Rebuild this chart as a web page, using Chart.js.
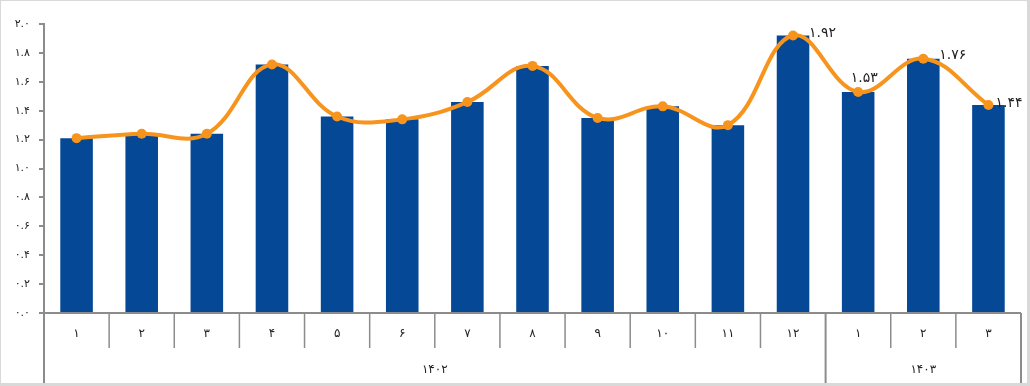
<!DOCTYPE html>
<html>
<head>
<meta charset="utf-8">
<script src="https://cdn.jsdelivr.net/npm/chart.js@4"></script>
<style>
  html, body { margin: 0; padding: 0; background: #d9d9d9; }
  #wrap { position: absolute; left: 1px; top: 1px; width: 1026px; height: 382px; background: #fff; }
</style>
</head>
<body>
<div id="wrap"><canvas id="chart_rate"></canvas></div>
<script>
// months of 1402 and 1403
const months = ['1', '2', '3', '4', '5', '6', '7', '8', '9', '10', '11', '12', '1', '2', '3'];
const years = ['1402', '1403'];
const yearSpans = [12, 3];
const barValues = [1.21, 1.24, 1.24, 1.72, 1.36, 1.34, 1.46, 1.71, 1.35, 1.43, 1.30, 1.92, 1.53, 1.76, 1.44];
const lineValues = [1.21, 1.24, 1.24, 1.72, 1.36, 1.34, 1.46, 1.71, 1.35, 1.43, 1.30, 1.92, 1.53, 1.76, 1.44];
const labelledPoints = [11, 12, 13, 14];

const FONT = 'DejaVu Sans';
const axisColor = '#8c8c8c';

function fa(s) {
    return String(s).replace(/[0-9]/g, d => '۰۱۲۳۴۵۶۷۸۹'[d]);
}

// draws the two-row category axis and the year groups
const groupAxis = {
    id: 'groupAxis',
    afterDraw(chart) {
        const ctx = chart.ctx;
        const xs = chart.scales.x;
        const area = chart.chartArea;
        const half = (xs.getPixelForValue(1) - xs.getPixelForValue(0)) / 2;
        const bottom = chart.height;
        ctx.save();
        ctx.strokeStyle = axisColor;
        ctx.beginPath();
        ctx.lineWidth = 2;
        ctx.moveTo(area.left - 5, area.bottom);
        ctx.lineTo(area.right, area.bottom);
        ctx.stroke();

        const groupEdges = [0];
        let acc = 0;
        yearSpans.forEach(n => { acc += n; groupEdges.push(acc); });

        for (let i = 0; i <= months.length; i++) {
            const x = xs.getPixelForValue(Math.min(i, months.length - 1)) + (i < months.length ? -half : half);
            const full = groupEdges.includes(i);
            ctx.beginPath();
            ctx.lineWidth = full ? 2 : 1.5;
            ctx.moveTo(x, area.bottom);
            ctx.lineTo(x, full ? bottom : area.bottom + 35);
            ctx.stroke();
        }

        ctx.fillStyle = '#222';
        ctx.font = '12px ' + FONT;
        ctx.textAlign = 'center';
        ctx.textBaseline = 'middle';
        months.forEach((m, i) => {
            ctx.fillText(fa(m), xs.getPixelForValue(i), area.bottom + 21);
        });
        years.forEach((y, g) => {
            const a = xs.getPixelForValue(groupEdges[g]) - half;
            const b = xs.getPixelForValue(groupEdges[g + 1] - 1) + half;
            ctx.fillText(fa(y), (a + b) / 2, area.bottom + 57);
        });
        ctx.restore();
    }
};

// value labels on the last points
const pointLabels = {
    id: 'pointLabels',
    afterDatasetsDraw(chart) {
        const ctx = chart.ctx;
        const meta = chart.getDatasetMeta(1);
        const shift = { 11: [16, -2], 13: [16, -3], 14: [7, -2] };
        ctx.save();
        ctx.fillStyle = '#222';
        ctx.font = '14px ' + FONT;
        ctx.textBaseline = 'middle';
        labelledPoints.forEach(i => {
            const p = meta.data[i];
            const txt = fa(lineValues[i].toFixed(2));
            if (i === 12) {
                ctx.textAlign = 'center';
                ctx.fillText(txt, p.x + 6, p.y - 14);
            } else {
                ctx.textAlign = 'left';
                ctx.fillText(txt, p.x + shift[i][0], p.y + shift[i][1]);
            }
        });
        ctx.restore();
    }
};

const ctx = document.getElementById('chart_rate').getContext('2d');
const myChart = new Chart(ctx, {
    type: 'bar',
    data: {
        labels: months.map(fa),
        datasets: [{
            type: 'bar',
            data: barValues,
            backgroundColor: '#044896',
            barPercentage: 0.5,
            categoryPercentage: 1,
            order: 2
        }, {
            type: 'line',
            data: lineValues,
            borderColor: '#f7941d',
            backgroundColor: '#f7941d',
            borderWidth: 4,
            pointRadius: 5,
            pointBorderWidth: 0,
            pointBackgroundColor: '#f7941d',
            tension: 0.4,
            order: 1
        }]
    },
    options: {
        responsive: true,
        maintainAspectRatio: false,
        animation: false,
        layout: { padding: { top: 23, right: 6, left: 0, bottom: 0 } },
        plugins: {
            legend: { display: false },
            tooltip: { enabled: false }
        },
        scales: {
            x: {
                ticks: { display: false },
                grid: { display: false },
                border: { display: false },
                afterFit: s => { s.height = 70; }
            },
            y: {
                min: 0,
                max: 2,
                ticks: {
                    stepSize: 0.2,
                    padding: 9,
                    color: '#222',
                    font: { family: FONT, size: 11 },
                    callback: v => fa(Number(v).toFixed(1))
                },
                grid: { drawOnChartArea: false, drawTicks: true, tickLength: 5, color: axisColor, lineWidth: 2 },
                border: { color: axisColor, width: 2 },
                afterFit: s => { s.width = 43; }
            }
        }
    },
    plugins: [groupAxis, pointLabels]
});
</script>
</body>
</html>
